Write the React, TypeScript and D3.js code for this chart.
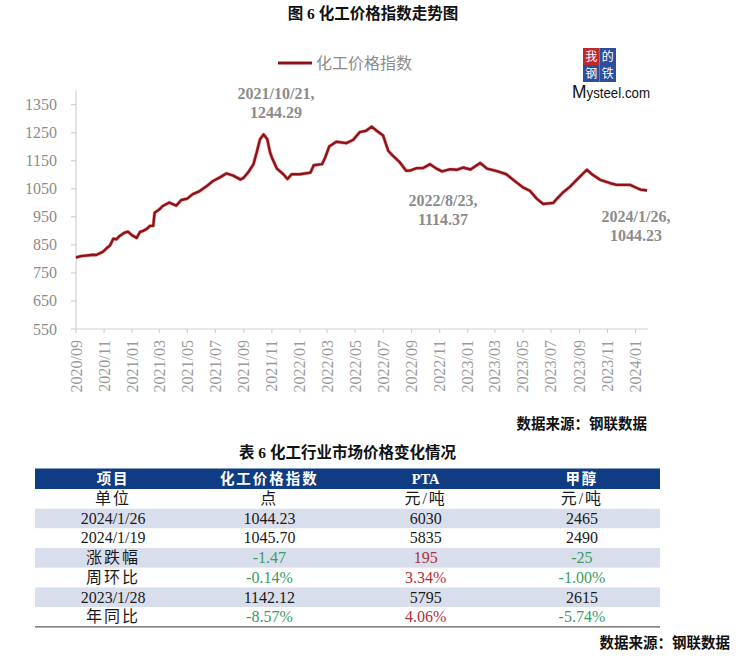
import React from "react";
import * as d3 from "d3";

const dates = ["2020-09-01","2020-09-12","2020-09-24","2020-10-08","2020-10-15","2020-10-30","2020-11-08","2020-11-14","2020-11-21","2020-11-28","2020-12-05","2020-12-16","2020-12-23","2021-01-01","2021-01-11","2021-01-18","2021-01-25","2021-02-02","2021-02-09","2021-02-16","2021-02-19","2021-03-01","2021-03-08","2021-03-23","2021-04-07","2021-04-18","2021-05-01","2021-05-13","2021-05-28","2021-06-11","2021-06-26","2021-07-10","2021-07-25","2021-08-09","2021-08-25","2021-09-01","2021-09-11","2021-09-22","2021-09-29","2021-10-06","2021-10-14","2021-10-22","2021-10-28","2021-11-01","2021-11-12","2021-11-26","2021-12-05","2021-12-14","2022-01-01","2022-01-24","2022-01-31","2022-02-18","2022-02-25","2022-03-06","2022-03-13","2022-03-21","2022-04-12","2022-04-27","2022-05-11","2022-05-25","2022-06-06","2022-06-17","2022-07-01","2022-07-12","2022-07-22","2022-08-06","2022-08-20","2022-08-28","2022-09-12","2022-09-26","2022-10-11","2022-10-25","2022-11-06","2022-11-24","2022-12-08","2022-12-22","2023-01-07","2023-01-28","2023-02-12","2023-03-04","2023-03-26","2023-04-10","2023-05-01","2023-05-16","2023-05-31","2023-06-14","2023-07-06","2023-07-13","2023-07-27","2023-08-11","2023-08-26","2023-09-17","2023-09-28","2023-10-16","2023-11-07","2023-11-21","2023-12-20","2024-01-05","2024-01-12","2024-01-19","2024-01-26"];
const indexValues = [805,810,812,815,814,826,840,848,872,870,882,894,897,884,875,896,900,907,918,918,965,976,988,1001,990,1010,1015,1031,1042,1058,1078,1090,1105,1097,1083,1090,1110,1138,1180,1226,1244.29,1227,1180,1162,1122,1102,1085,1102,1102,1108,1134,1138,1162,1202,1209,1218,1213,1225,1252,1257,1272,1257,1240,1186,1168,1145,1114.37,1115,1124,1124,1138,1122,1112,1120,1118,1126,1119,1142.12,1122,1114,1102,1082,1055,1043,1015,996,1000,1013,1037,1057,1082,1118,1102,1082,1070,1064,1064,1052,1047,1045.70,1044.23];

const yTicks = [550,650,750,850,950,1050,1150,1250,1350];
const xTickLabels = ["2020/09","2020/11","2021/01","2021/03","2021/05","2021/07","2021/09","2021/11","2022/01","2022/03","2022/05","2022/07","2022/09","2022/11","2023/01","2023/03","2023/05","2023/07","2023/09","2023/11","2024/01"];

const annotations = [
  { date: "2021-10-14", lines: ["2021/10/21,", "1244.29"] },
  { date: "2022-08-20", lines: ["2022/8/23,", "1114.37"] },
  { date: "2024-01-26", lines: ["2024/1/26,", "1044.23"] },
];

const tableHeaders = ["项目", "化工价格指数", "PTA", "甲醇"];
const rowLabels = ["单位", "2024/1/26", "2024/1/19", "涨跌幅", "周环比", "2023/1/28", "年同比"];
const indexCol = ["点", "1044.23", "1045.70", "-1.47", "-0.14%", "1142.12", "-8.57%"];
const ptaCol = ["元/吨", "6030", "5835", "195", "3.34%", "5795", "4.06%"];
const methanolCol = ["元/吨", "2465", "2490", "-25", "-1.00%", "2615", "-5.74%"];

const FONT = "'Liberation Serif', 'Noto Sans CJK SC', serif";
const CJK = "'Noto Sans CJK SC', sans-serif";
const LINE_COLOR = "#8e1217";
const GRAY = "#8c8c8c";

export default function App() {
  const parse = d3.timeParse("%Y-%m-%d");
  const data = dates.map((d, i) => ({ date: parse(d) as Date, value: indexValues[i] }));

  const x = d3.scaleTime().domain([parse("2020-09-01") as Date, parse("2024-01-28") as Date]).range([76, 648]);
  const y = d3.scaleLinear().domain([550, 1400]).range([329, 90.7]);

  const line = d3.line<{ date: Date; value: number }>().x(d => x(d.date)).y(d => y(d.value)).curve(d3.curveLinear);
  const path = line(data) || "";

  const xTickDates = xTickLabels.map(s => parse(s.replace("/", "-") + "-01") as Date);

  const annPos = [
    { cx: 276, by: 99 },
    { cx: 443, by: 206 },
    { cx: 636, by: 222 },
  ];

  const tLeft = 35, tRight = 660;
  const colX = d3.scaleBand<number>().domain([0, 1, 2, 3]).range([tLeft, tRight]);
  const headerTop = 468.5, headerH = 20.5, rowH = 19.7;
  const rowY = d3.scaleLinear().domain([0, 7]).range([headerTop + headerH, headerTop + headerH + 7 * rowH]);
  const cols = [rowLabels, indexCol, ptaCol, methanolCol];
  const colorFor = (r: number, v: string) => {
    if (r === 3 || r === 4 || r === 6) return v.startsWith("-") ? "#3c9a63" : "#b0303a";
    return "#1a1a1a";
  };

  const logoCells = [
    { ch: "我", cx: 0, cy: 0, bg: "#c4262e" },
    { ch: "的", cx: 1, cy: 0, bg: "#2c4f9c" },
    { ch: "钢", cx: 0, cy: 1, bg: "#2c4f9c" },
    { ch: "铁", cx: 1, cy: 1, bg: "#2c4f9c" },
  ];

  return (
    <svg width={747} height={670} style={{ position: "absolute", left: 0, top: 0, background: "#fff" }}>
      <rect x={0} y={0} width={747} height={670} fill="#fff" />
      <text x={373} y={19} textAnchor="middle" fontFamily={FONT} fontWeight="bold" fontSize={15.5} fill="#111">图 6 化工价格指数走势图</text>

      <line x1={278} x2={312} y1={63} y2={63} stroke={LINE_COLOR} strokeWidth={3} />
      <text x={316} y={69} fontFamily={CJK} fontSize={16} fill={GRAY}>化工价格指数</text>

      <g>
        {logoCells.map((c, i) => (
          <g key={i}>
            <rect x={583 + c.cx * 16.5} y={48 + c.cy * 17} width={16.5} height={17} fill={c.bg} />
            <text x={591.25 + c.cx * 16.5} y={61 + c.cy * 17} textAnchor="middle" fontFamily={CJK} fontSize={12} fill="#fff">{c.ch}</text>
          </g>
        ))}
        <text x={572} y={98} fontFamily="'Liberation Sans', Arial, sans-serif" fontSize={14.5} fill="#111" textLength={78} lengthAdjust="spacingAndGlyphs">
          <tspan fontSize={19}>M</tspan>ysteel.com
        </text>
      </g>

      <line x1={76} x2={76} y1={y(1400)} y2={y(550)} stroke="#c8c8c8" strokeWidth={1} />
      <line x1={76} x2={648} y1={y(550)} y2={y(550)} stroke="#d0d0d0" strokeWidth={1} />
      {yTicks.map(t => (
        <g key={t}>
          <line x1={71} x2={76} y1={y(t)} y2={y(t)} stroke="#c8c8c8" />
          <text x={57} y={y(t) + 5.5} textAnchor="end" fontFamily={FONT} fontSize={16} fill={GRAY}>{t}</text>
        </g>
      ))}
      {xTickDates.map((d, i) => (
        <g key={i}>
          <line x1={x(d)} x2={x(d)} y1={y(550)} y2={y(550) + 4} stroke="#c8c8c8" />
          <text transform={`translate(${x(d) + 5.5},${340}) rotate(-90)`} textAnchor="end" fontFamily={FONT} fontSize={16} fill="#9a9a9a">{xTickLabels[i]}</text>
        </g>
      ))}

      <path d={path} fill="none" stroke="#d23a3a" strokeOpacity={0.45} strokeWidth={3.6} strokeLinejoin="round" />
      <path d={path} fill="none" stroke={LINE_COLOR} strokeWidth={2.4} strokeLinejoin="round" />

      {annotations.map((a, i) => (
        <g key={i}>
          {a.lines.map((l, j) => (
            <text key={j} x={annPos[i].cx} y={annPos[i].by + j * 18.5} textAnchor="middle" fontFamily={FONT} fontWeight="bold" fontSize={16} fill={GRAY}>{l}</text>
          ))}
        </g>
      ))}

      <text x={647} y={429} textAnchor="end" fontFamily={CJK} fontWeight="bold" fontSize={14.5} fill="#111">数据来源：钢联数据</text>

      <text x={347.5} y={458} textAnchor="middle" fontFamily={FONT} fontWeight="bold" fontSize={15.5} fill="#111">表 6 化工行业市场价格变化情况</text>

      <rect x={tLeft} y={headerTop} width={tRight - tLeft} height={headerH} fill="#0f3c82" />
      {tableHeaders.map((h, c) => (
        <text key={c} x={(colX(c) as number) + colX.bandwidth() / 2} y={headerTop + 15} textAnchor="middle" fontFamily={FONT} fontWeight="bold" fontSize={14.5} fill="#fff" letterSpacing={h === "PTA" ? 0 : 2}>{h}</text>
      ))}
      {rowLabels.map((_, r) => (
        <rect key={r} x={tLeft} y={rowY(r)} width={tRight - tLeft} height={rowH} fill={r % 2 === 1 ? "#d9deec" : "#ffffff"} />
      ))}
      {rowLabels.map((_, r) => (
        <g key={r}>
          {cols.map((col, c) => (
            <text key={c} x={(colX(c) as number) + colX.bandwidth() / 2} y={rowY(r) + 15} textAnchor="middle" fontFamily={FONT} fontSize={16}
              fill={c === 0 ? "#1a1a1a" : colorFor(r, col[r])} letterSpacing={/[\u4e00-\u9fff]/.test(col[r]) ? 2 : 0}>{col[r]}</text>
          ))}
        </g>
      ))}
      <line x1={tLeft} x2={tRight} y1={rowY(7)} y2={rowY(7)} stroke="#333" strokeWidth={1} />

      <text x={730} y={648} textAnchor="end" fontFamily={CJK} fontWeight="bold" fontSize={14.5} fill="#111">数据来源：钢联数据</text>
    </svg>
  );
}
